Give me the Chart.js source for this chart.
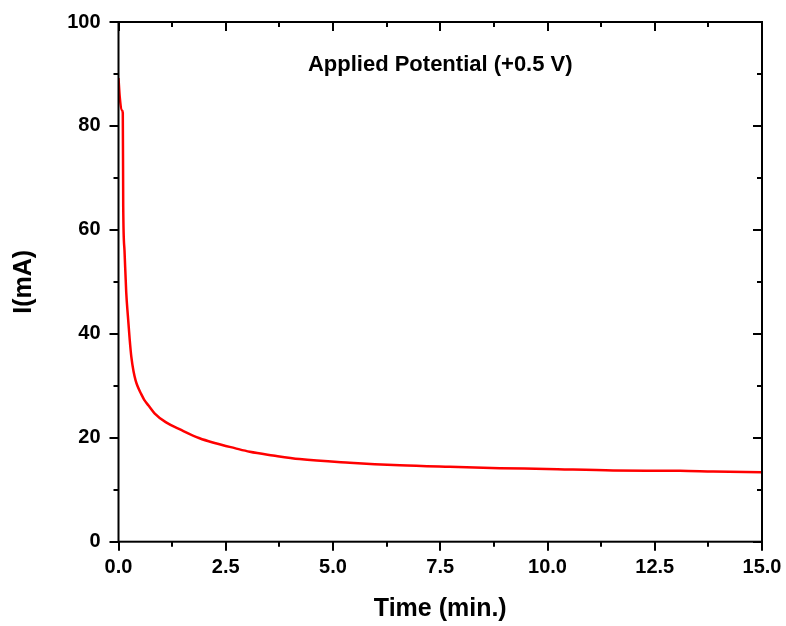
<!DOCTYPE html>
<html>
<head>
<meta charset="utf-8">
<script src="https://cdn.jsdelivr.net/npm/chart.js@4"></script>
<style>
  html, body { margin: 0; padding: 0; background: #fff; }
  canvas { display: block; }
</style>
</head>
<body>
<canvas id="chart1" width="786" height="626"></canvas>
<script>
// time in minutes and current in mA
const timeMin = [0, 0.03, 0.08, 0.10, 0.11, 0.14, 0.18, 0.22, 0.26, 0.30, 0.35, 0.40, 0.45, 0.53, 0.60, 0.70, 0.84, 1.10, 1.46, 1.89, 2.24, 2.71, 3.06, 3.60, 4.22, 5.39, 6.56, 7.72, 8.89, 9.98, 11.53, 13.09, 13.86, 15.0];
const currentMA = [89.2, 85.5, 83.0, 82.5, 64.5, 56.0, 48.0, 43.3, 39.0, 35.5, 32.8, 31.0, 29.8, 28.4, 27.3, 26.2, 24.7, 23.0, 21.5, 19.9, 19.0, 18.0, 17.3, 16.6, 15.9, 15.2, 14.7, 14.4, 14.15, 14.0, 13.7, 13.65, 13.5, 13.35];
const xTicks = [0, 2.5, 5, 7.5, 10, 12.5, 15];
const yTicks = [0, 20, 40, 60, 80, 100];
const noteText = 'Applied Potential (+0.5 V)';

const points = timeMin.map((t, i) => ({x: t, y: currentMA[i]}));

function minors(list) {
  const out = [];
  for (let i = 0; i < list.length - 1; i++) out.push((list[i] + list[i + 1]) / 2);
  return out;
}

// frame + ticks like Origin: outward on bottom/left, inward on top/right
const framePlugin = {
  id: 'frame',
  afterDraw(chart) {
    const ctx = chart.ctx;
    const a = chart.chartArea;
    const xs = chart.scales.x, ys = chart.scales.y;
    const big = 9, small = 5;
    ctx.save();
    ctx.strokeStyle = '#000';
    ctx.lineWidth = 2;
    ctx.strokeRect(a.left, a.top, a.right - a.left, a.bottom - a.top);
    ctx.beginPath();
    const xt = (v, len) => {
      const p = Math.round(xs.getPixelForValue(v));
      ctx.moveTo(p, a.bottom); ctx.lineTo(p, a.bottom + len);
      ctx.moveTo(p, a.top); ctx.lineTo(p, a.top + len);
    };
    const yt = (v, len) => {
      const p = Math.round(ys.getPixelForValue(v));
      ctx.moveTo(a.left, p); ctx.lineTo(a.left - len, p);
      ctx.moveTo(a.right, p); ctx.lineTo(a.right - len, p);
    };
    xTicks.forEach(v => xt(v, big));
    minors(xTicks).forEach(v => xt(v, small));
    yTicks.forEach(v => yt(v, big));
    minors(yTicks).forEach(v => yt(v, small));
    ctx.stroke();

    ctx.fillStyle = '#000';
    ctx.font = 'bold 22px "Liberation Sans", Arial, sans-serif';
    ctx.textAlign = 'center';
    ctx.textBaseline = 'middle';
    ctx.fillText(noteText, (a.left + a.right) / 2, 65);
    ctx.restore();
  }
};

// keep the plot box where the reference has it; labels may overhang
function fixBox(s, key, size) {
  s[key] = size;
  s.paddingLeft = 0; s.paddingRight = 0; s.paddingTop = 0; s.paddingBottom = 0;
}

Chart.defaults.font.family = '"Liberation Sans", Arial, sans-serif';
Chart.defaults.color = '#000';

new Chart(document.getElementById('chart1'), {
  type: 'scatter',
  data: {
    datasets: [{
      label: 'I',
      data: points,
      showLine: true,
      borderColor: '#ff0000',
      borderWidth: 2.5,
      pointRadius: 0,
      cubicInterpolationMode: 'monotone'
    }]
  },
  options: {
    responsive: false,
    animation: false,
    layout: {padding: {left: 0, top: 22, right: 24, bottom: 0}},
    plugins: {legend: {display: false}, tooltip: {enabled: false}},
    scales: {
      x: {
        type: 'linear',
        min: 0, max: 15,
        grid: {display: false, drawTicks: false},
        border: {display: false},
        afterBuildTicks: s => { s.ticks = xTicks.map(v => ({value: v})); },
        ticks: {
          padding: 14,
          font: {size: 20, weight: 'bold'},
          callback: v => v.toFixed(1)
        },
        title: {display: true, text: 'Time (min.)', font: {size: 25, weight: 'bold'}, padding: {top: 0, bottom: 2}},
        afterFit: s => fixBox(s, 'height', 84.3)
      },
      y: {
        type: 'linear',
        min: 0, max: 100,
        grid: {display: false, drawTicks: false},
        border: {display: false},
        afterBuildTicks: s => { s.ticks = yTicks.map(v => ({value: v})); },
        ticks: {
          padding: 18,
          font: {size: 20, weight: 'bold'}
        },
        title: {display: true, text: 'I(mA)', font: {size: 25, weight: 'bold'}, padding: {top: 9, bottom: 0}},
        afterFit: s => fixBox(s, 'width', 118.5)
      }
    }
  },
  plugins: [framePlugin]
});
</script>
</body>
</html>
